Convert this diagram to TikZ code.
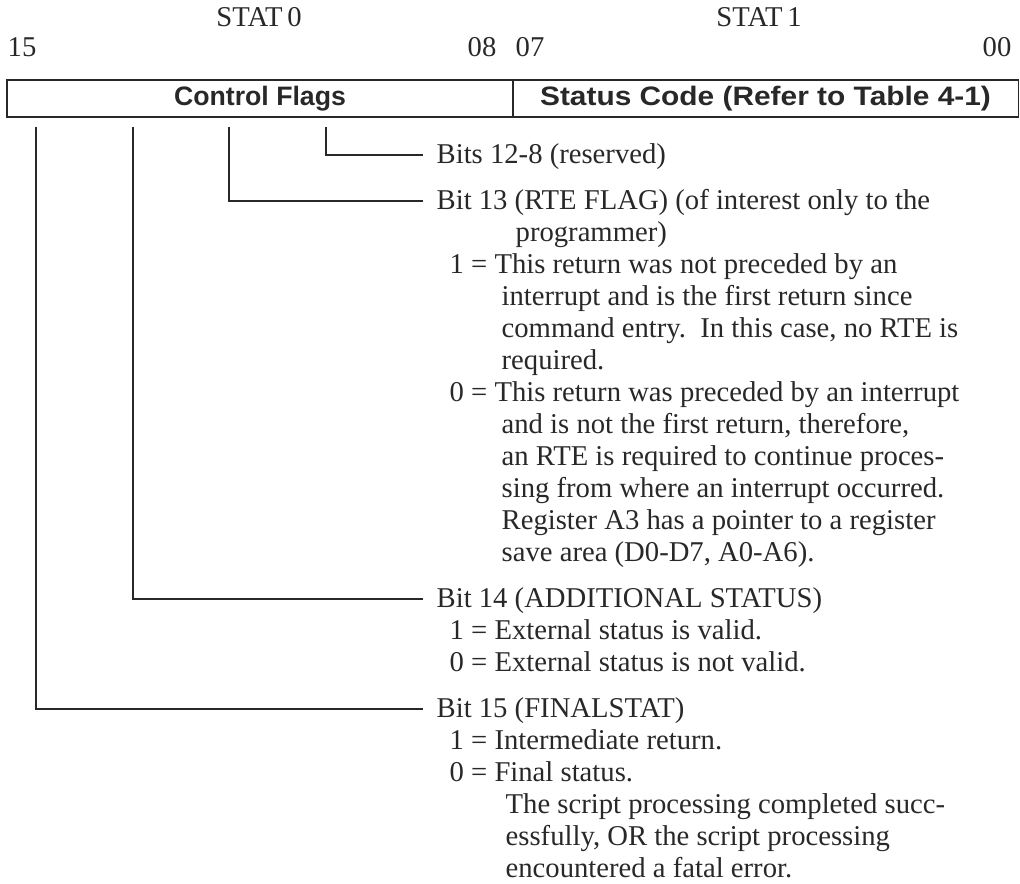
\documentclass[tikz,border=0pt]{standalone}
\usepackage{fontspec}
\setmainfont{Liberation Serif}
\setsansfont{Liberation Sans}
\newfontfamily\widesans{Liberation Sans}[FakeStretch=1.12]
\usepackage{tikz}

\definecolor{ink}{RGB}{40,40,40}
\newcommand{\bitfont}{\fontsize{21.5}{24}\selectfont}
\newcommand{\fieldfont}{\sffamily\bfseries\fontsize{20}{24}\selectfont}

\tikzset{
    field/.style={draw, minimum width=379.5pt, minimum height=27.75pt, inner sep=0pt, font=\fieldfont},
    head/.style={inner sep=0pt, font=\bitfont},
    desc/.style={anchor=west, inner xsep=9.75pt, inner ysep=0pt, text height=12pt, text depth=0pt, font=\bitfont},
    more/.style={anchor=base west, inner sep=0pt, font=\bitfont}
}

\begin{document}
\begin{tikzpicture}[x=0.75pt, y=-0.75pt, line width=1pt, color=ink]
    \useasboundingbox (0,0) rectangle (1020,883);

    % register
    \node[field] at (260,98.5) (CF) {Control Flags};
    \node[field] at (765.5,98.5) (SC) {\widesans\bfseries Status Code (Refer to Table 4-1)};

    \node[head, anchor=base] at (259,26) (S0) {STAT\,0};
    \node[head, anchor=base] at (759,26) (S1) {STAT\,1};
    \node[head, anchor=base west] at (7,56) (N15) {15};
    \node[head, anchor=base east] at (497,56) (N08) {08};
    \node[head, anchor=base west] at (515,56) (N07) {07};
    \node[head, anchor=base east] at (1012,56) (N00) {00};

    % bit descriptions
    \node[desc] at (423,155) (B12) {Bits 12-8 (reserved)};

    \node[desc] at (423,201) (B13) {Bit 13 (RTE FLAG) (of interest only to the};
    \node[more] at (515,241) {programmer)};
    \node[more] at (449,273) {1 = This return was not preceded by an};
    \node[more] at (501,305) {interrupt and is the first return since};
    \node[more] at (501,337) {command entry.\ \ In this case, no RTE is};
    \node[more] at (501,369) {required.};
    \node[more] at (449,401) {0 = This return was preceded by an interrupt};
    \node[more] at (501,433) {and is not the first return, therefore,};
    \node[more] at (501,465) {an RTE is required to continue proces-};
    \node[more] at (501,497) {sing from where an interrupt occurred.};
    \node[more] at (501,529) {Register A3 has a pointer to a register};
    \node[more] at (501,561) {save area (D0-D7, A0-A6).};

    \node[desc] at (423,599) (B14) {Bit 14 (ADDITIONAL STATUS)};
    \node[more] at (449,639) {1 = External status is valid.};
    \node[more] at (449,671) {0 = External status is not valid.};

    \node[desc] at (423,709) (B15) {Bit 15 (FINALSTAT)};
    \node[more] at (449,749) {1 = Intermediate return.};
    \node[more] at (449,781) {0 = Final status.};
    \node[more] at (505,813) {The script processing completed succ-};
    \node[more] at (505,845) {essfully, OR the script processing};
    \node[more] at (505,877) {encountered a fatal error.};

    % leader lines
    \coordinate (T15) at (36,127);
    \coordinate (T14) at (133,127);
    \coordinate (T13) at (229,127);
    \coordinate (T12) at (326,127);

    \draw (T12) |- (B12.west);
    \draw (T13) |- (B13.west);
    \draw (T14) |- (B14.west);
    \draw (T15) |- (B15.west);
\end{tikzpicture}
\end{document}
